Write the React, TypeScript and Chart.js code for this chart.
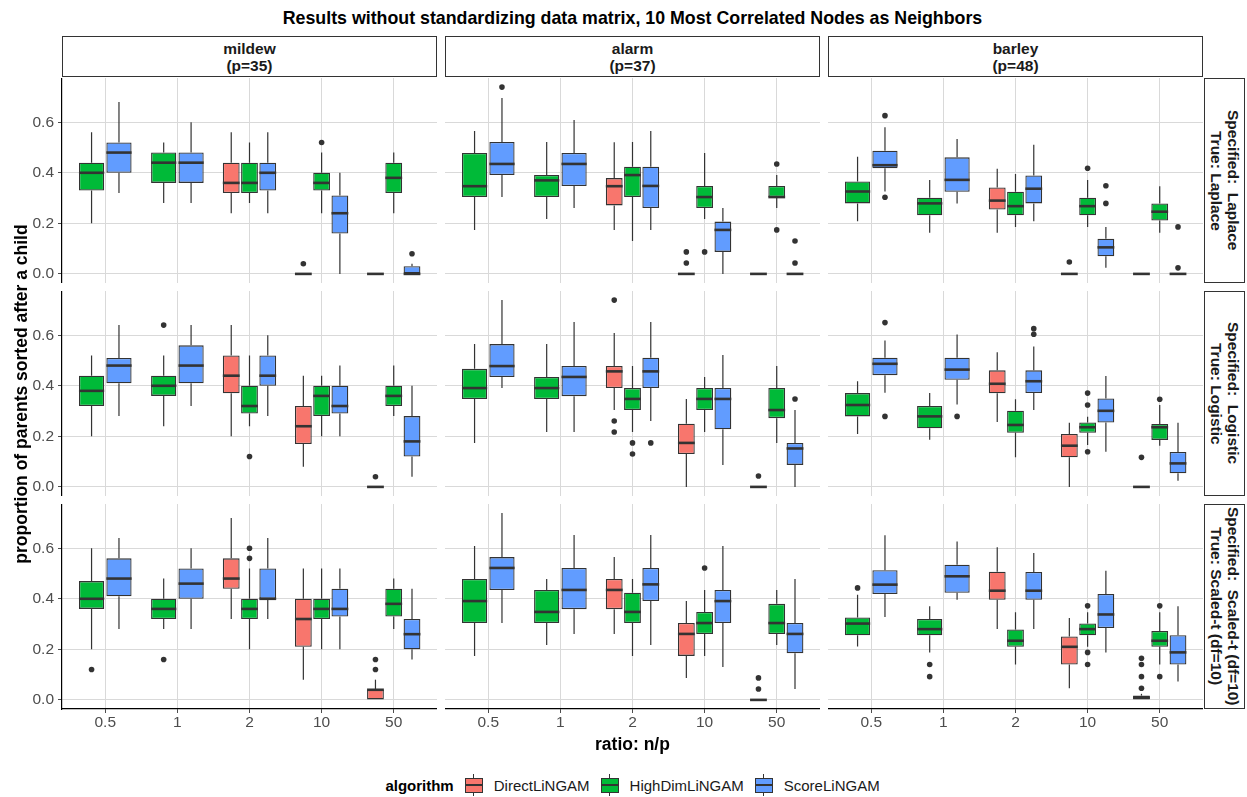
import React, { useEffect, useRef } from "react";
import { Chart, registerables } from "chart.js";

Chart.register(...registerables);

// ---------- data ----------
// box: [lower whisker, Q1, median, Q3, upper whisker, outliers]
type Box = [number, number, number, number, number, number[]] | null;

const ratioLabels = ["0.5", "1", "2", "10", "50"];
const algorithmNames = ["DirectLiNGAM", "HighDimLiNGAM", "ScoreLiNGAM"];
const networkLabels = ["mildew\n(p=35)", "alarm\n(p=37)", "barley\n(p=48)"];
const modelLabels = [
  "Specified:  Laplace\nTrue: Laplace",
  "Specified:  Logistic\nTrue: Logistic",
  "Specified:  Scaled-t (df=10)\nTrue: Scaled-t (df=10)",
];
const yTickValues = [0, 0.2, 0.4, 0.6];
const yRange = [-0.036, 0.775];

// mildew
const mildewLaplaceDirect: Box[] = [null, null, [0.24, 0.32, 0.36, 0.44, 0.56, []], [0, 0, 0, 0, 0, [0.04]], [0, 0, 0, 0, 0, []]];
const mildewLaplaceHighDim: Box[] = [[0.2, 0.33, 0.4, 0.44, 0.56, []], [0.28, 0.36, 0.44, 0.48, 0.52, []], [0.28, 0.32, 0.36, 0.44, 0.52, []], [0.24, 0.33, 0.36, 0.4, 0.48, [0.52]], [0.24, 0.32, 0.38, 0.44, 0.48, []]];
const mildewLaplaceScore: Box[] = [[0.32, 0.4, 0.48, 0.52, 0.68, []], [0.28, 0.36, 0.44, 0.48, 0.6, []], [0.24, 0.33, 0.4, 0.44, 0.56, []], [0, 0.16, 0.24, 0.31, 0.4, []], [0, 0, 0, 0.03, 0.04, [0.08]]];

const mildewLogisticDirect: Box[] = [null, null, [0.2, 0.37, 0.44, 0.52, 0.64, []], [0.08, 0.17, 0.24, 0.32, 0.44, []], [0, 0, 0, 0, 0, [0.04]]];
const mildewLogisticHighDim: Box[] = [[0.2, 0.32, 0.38, 0.44, 0.52, []], [0.24, 0.36, 0.4, 0.44, 0.52, [0.64]], [0.24, 0.29, 0.32, 0.4, 0.52, [0.12]], [0.2, 0.28, 0.36, 0.4, 0.44, []], [0.28, 0.32, 0.36, 0.4, 0.48, []]];
const mildewLogisticScore: Box[] = [[0.28, 0.41, 0.48, 0.51, 0.64, []], [0.32, 0.41, 0.48, 0.56, 0.64, []], [0.28, 0.4, 0.44, 0.52, 0.6, []], [0.2, 0.29, 0.32, 0.4, 0.48, []], [0.04, 0.12, 0.18, 0.28, 0.4, []]];

const mildewScaledTDirect: Box[] = [null, null, [0.32, 0.44, 0.48, 0.56, 0.72, []], [0.08, 0.21, 0.32, 0.4, 0.52, []], [0, 0, 0.04, 0.04, 0.08, [0.12, 0.16]]];
const mildewScaledTHighDim: Box[] = [[0.2, 0.36, 0.4, 0.47, 0.6, [0.12]], [0.28, 0.32, 0.36, 0.4, 0.48, [0.16]], [0.2, 0.32, 0.36, 0.4, 0.52, [0.56, 0.6]], [0.2, 0.32, 0.36, 0.4, 0.52, []], [0.28, 0.33, 0.38, 0.44, 0.48, []]];
const mildewScaledTScore: Box[] = [[0.28, 0.41, 0.48, 0.56, 0.64, []], [0.28, 0.4, 0.46, 0.52, 0.6, []], [0.32, 0.4, 0.4, 0.52, 0.64, []], [0.2, 0.33, 0.36, 0.44, 0.52, []], [0.16, 0.2, 0.26, 0.32, 0.44, []]];

// alarm
const alarmLaplaceDirect: Box[] = [null, null, [0.174, 0.271, 0.347, 0.379, 0.521, []], [0, 0, 0, 0, 0, [0.043, 0.087]], [0, 0, 0, 0, 0, []]];
const alarmLaplaceHighDim: Box[] = [[0.174, 0.304, 0.347, 0.478, 0.565, []], [0.217, 0.304, 0.37, 0.391, 0.522, []], [0.13, 0.304, 0.391, 0.424, 0.522, []], [0.217, 0.261, 0.304, 0.348, 0.478, [0.087]], [0.261, 0.304, 0.304, 0.348, 0.391, [0.174, 0.435]]];
const alarmLaplaceScore: Box[] = [[0.304, 0.391, 0.435, 0.522, 0.696, [0.739]], [0.261, 0.348, 0.435, 0.478, 0.609, []], [0.174, 0.261, 0.348, 0.424, 0.565, []], [0, 0.087, 0.174, 0.207, 0.261, []], [0, 0, 0, 0, 0, [0.043, 0.13]]];

const alarmLogisticDirect: Box[] = [null, null, [0.304, 0.391, 0.457, 0.478, 0.609, [0.217, 0.261, 0.739]], [0, 0.13, 0.174, 0.25, 0.348, []], [0, 0, 0, 0, 0, [0.043]]];
const alarmLogisticHighDim: Box[] = [[0.174, 0.348, 0.391, 0.467, 0.565, []], [0.217, 0.348, 0.391, 0.435, 0.565, []], [0.217, 0.304, 0.348, 0.391, 0.478, [0.13, 0.174]], [0.217, 0.304, 0.348, 0.391, 0.435, []], [0.174, 0.272, 0.304, 0.391, 0.478, []]];
const alarmLogisticScore: Box[] = [[0.391, 0.435, 0.478, 0.565, 0.739, []], [0.217, 0.359, 0.435, 0.478, 0.652, []], [0.261, 0.391, 0.457, 0.511, 0.652, [0.174]], [0.087, 0.228, 0.348, 0.391, 0.522, []], [0, 0.087, 0.152, 0.174, 0.304, [0.348]]];

const alarmScaledTDirect: Box[] = [null, null, [0.261, 0.359, 0.435, 0.478, 0.565, []], [0.087, 0.174, 0.261, 0.304, 0.391, []], [0, 0, 0, 0, 0, [0.043, 0.087]]];
const alarmScaledTHighDim: Box[] = [[0.174, 0.304, 0.391, 0.478, 0.609, []], [0.217, 0.304, 0.348, 0.435, 0.478, []], [0.174, 0.304, 0.348, 0.424, 0.478, []], [0.174, 0.261, 0.304, 0.348, 0.435, [0.522]], [0.217, 0.261, 0.304, 0.38, 0.435, []]];
const alarmScaledTScore: Box[] = [[0.304, 0.435, 0.522, 0.565, 0.739, []], [0.261, 0.359, 0.435, 0.522, 0.652, []], [0.217, 0.391, 0.457, 0.522, 0.652, []], [0.13, 0.304, 0.391, 0.435, 0.609, []], [0.043, 0.185, 0.261, 0.304, 0.478, []]];

// barley
const barleyLaplaceDirect: Box[] = [null, null, [0.163, 0.255, 0.29, 0.342, 0.416, []], [0, 0, 0, 0, 0, [0.047]], [0, 0, 0, 0, 0, []]];
const barleyLaplaceHighDim: Box[] = [[0.208, 0.279, 0.326, 0.366, 0.463, []], [0.163, 0.232, 0.279, 0.301, 0.371, []], [0.186, 0.232, 0.268, 0.325, 0.395, []], [0.186, 0.232, 0.268, 0.301, 0.371, [0.418]], [0.163, 0.211, 0.246, 0.279, 0.347, []]];
const barleyLaplaceScore: Box[] = [[0.326, 0.418, 0.43, 0.487, 0.58, [0.303, 0.626]], [0.279, 0.325, 0.372, 0.461, 0.534, []], [0.208, 0.279, 0.337, 0.389, 0.511, []], [0.024, 0.07, 0.105, 0.139, 0.186, [0.279, 0.349]], [0, 0, 0, 0, 0, [0.024, 0.186]]];

const barleyLogisticDirect: Box[] = [null, null, [0.257, 0.37, 0.408, 0.461, 0.533, []], [0, 0.117, 0.163, 0.209, 0.254, []], [0, 0, 0, 0, 0, [0.117]]];
const barleyLogisticHighDim: Box[] = [[0.209, 0.279, 0.324, 0.371, 0.418, []], [0.187, 0.232, 0.279, 0.32, 0.371, []], [0.117, 0.214, 0.245, 0.301, 0.347, []], [0.166, 0.214, 0.236, 0.255, 0.278, [0.139, 0.324, 0.371]], [0.163, 0.186, 0.236, 0.249, 0.324, [0.347]]];
const barleyLogisticScore: Box[] = [[0.372, 0.442, 0.487, 0.511, 0.579, [0.279, 0.65]], [0.326, 0.424, 0.464, 0.511, 0.603, [0.279]], [0.304, 0.371, 0.418, 0.461, 0.555, [0.604, 0.626]], [0.139, 0.255, 0.301, 0.35, 0.439, []], [0.024, 0.054, 0.093, 0.138, 0.254, []]];

const barleyScaledTDirect: Box[] = [null, null, [0.28, 0.396, 0.432, 0.507, 0.604, []], [0.046, 0.14, 0.21, 0.251, 0.324, []], [0, 0, 0.009, 0.017, 0.024, [0.046, 0.092, 0.14, 0.165]]];
const barleyScaledTHighDim: Box[] = [[0.211, 0.256, 0.302, 0.326, 0.416, [0.443]], [0.188, 0.256, 0.28, 0.32, 0.37, [0.092, 0.14]], [0.14, 0.21, 0.234, 0.279, 0.347, []], [0.21, 0.256, 0.28, 0.302, 0.347, [0.14, 0.188, 0.372]], [0.14, 0.21, 0.234, 0.273, 0.347, [0.092, 0.372]]];
const barleyScaledTScore: Box[] = [[0.328, 0.419, 0.456, 0.513, 0.651, []], [0.396, 0.424, 0.489, 0.535, 0.627, []], [0.28, 0.396, 0.432, 0.506, 0.581, []], [0.188, 0.284, 0.338, 0.419, 0.511, []], [0.073, 0.14, 0.188, 0.256, 0.37, []]];

// facet grid: rows = models, cols = networks, each cell = [Direct, HighDim, Score]
const facetBoxes: Box[][][][] = [
  [
    [mildewLaplaceDirect, mildewLaplaceHighDim, mildewLaplaceScore],
    [alarmLaplaceDirect, alarmLaplaceHighDim, alarmLaplaceScore],
    [barleyLaplaceDirect, barleyLaplaceHighDim, barleyLaplaceScore],
  ],
  [
    [mildewLogisticDirect, mildewLogisticHighDim, mildewLogisticScore],
    [alarmLogisticDirect, alarmLogisticHighDim, alarmLogisticScore],
    [barleyLogisticDirect, barleyLogisticHighDim, barleyLogisticScore],
  ],
  [
    [mildewScaledTDirect, mildewScaledTHighDim, mildewScaledTScore],
    [alarmScaledTDirect, alarmScaledTHighDim, alarmScaledTScore],
    [barleyScaledTDirect, barleyScaledTHighDim, barleyScaledTScore],
  ],
];

// ---------- style / layout ----------
const FONT = "'Liberation Sans', Arial, Helvetica, sans-serif";
const COLORS = ["#F8766D", "#00BA38", "#619CFF"];
const INK = "#333333";
const GRID = "#d9d9d9";
const TICK_TEXT = "#4d4d4d";
const PANEL_W = 375;
const PANEL_H = 205;
const COL_X = [62, 445, 828];
const ROW_Y = [78, 291, 504];
const Y_AXIS_W = 62;
const X_AXIS_H = 30;

const boxPlugin = {
  id: "boxDecor",
  beforeDatasetsDraw(chart: any) {
    const ctx = chart.ctx;
    const ys = chart.scales.y;
    ctx.save();
    ctx.strokeStyle = INK;
    ctx.lineWidth = 1.2;
    chart.data.datasets.forEach((ds: any, di: number) => {
      const meta = chart.getDatasetMeta(di);
      ds.boxes.forEach((b: Box, i: number) => {
        if (!b) return;
        const el = meta.data[i];
        const x = el.x;
        ctx.beginPath();
        ctx.moveTo(x, ys.getPixelForValue(b[3]));
        ctx.lineTo(x, ys.getPixelForValue(b[4]));
        ctx.moveTo(x, ys.getPixelForValue(b[1]));
        ctx.lineTo(x, ys.getPixelForValue(b[0]));
        ctx.stroke();
      });
    });
    ctx.restore();
  },
  afterDatasetsDraw(chart: any) {
    const ctx = chart.ctx;
    const ys = chart.scales.y;
    ctx.save();
    chart.data.datasets.forEach((ds: any, di: number) => {
      const meta = chart.getDatasetMeta(di);
      ds.boxes.forEach((b: Box, i: number) => {
        if (!b) return;
        const el = meta.data[i];
        const x = el.x;
        const w = el.width;
        ctx.strokeStyle = INK;
        ctx.lineWidth = 2.6;
        ctx.lineCap = "butt";
        const ym = ys.getPixelForValue(b[2]);
        ctx.beginPath();
        ctx.moveTo(x - w / 2, ym);
        ctx.lineTo(x + w / 2, ym);
        ctx.stroke();
        ctx.fillStyle = INK;
        b[5].forEach((o) => {
          ctx.beginPath();
          ctx.arc(x, ys.getPixelForValue(o), 2.8, 0, Math.PI * 2);
          ctx.fill();
        });
      });
    });
    ctx.restore();
  },
};

function FacetChart({ row, col }: { row: number; col: number }) {
  const ref = useRef<HTMLCanvasElement | null>(null);
  const isLeft = col === 0;
  const isBottom = row === 2;
  const left = isLeft ? COL_X[col] - Y_AXIS_W : COL_X[col];
  const width = PANEL_W + (isLeft ? Y_AXIS_W : 0);
  const top = ROW_Y[row];
  const height = PANEL_H + (isBottom ? X_AXIS_H : 0);

  useEffect(() => {
    if (!ref.current) return;
    const boxes = facetBoxes[row][col];
    const chart = new Chart(ref.current, {
      type: "bar",
      data: {
        labels: ratioLabels,
        datasets: algorithmNames.map((name, k) => ({
          label: name,
          data: boxes[k].map((b) => (b ? [b[1], b[3]] : null)),
          boxes: boxes[k],
          backgroundColor: COLORS[k],
          borderColor: INK,
          borderWidth: 1.3,
          borderSkipped: false,
          skipNull: true,
          categoryPercentage: 0.76,
          barPercentage: 0.92,
        })) as any,
      },
      options: {
        animation: false,
        responsive: false,
        maintainAspectRatio: false,
        events: [],
        layout: { padding: 0 },
        plugins: { legend: { display: false }, tooltip: { enabled: false }, title: { display: false } },
        scales: {
          x: {
            type: "category",
            offset: true,
            grid: { offset: false, color: GRID, lineWidth: 1, drawTicks: isBottom, tickLength: 4, tickColor: TICK_TEXT },
            border: { display: isBottom, color: "#000000", width: 1.2 },
            ticks: { display: isBottom, color: TICK_TEXT, font: { family: FONT, size: 15.5 }, padding: 0, maxRotation: 0, autoSkip: false },
            afterFit: (s: any) => {
              s.height = isBottom ? X_AXIS_H : 0;
              s.paddingLeft = 0;
              s.paddingRight = 0;
              s.paddingTop = 0;
              s.paddingBottom = 0;
            },
            afterUpdate: (s: any) => {
              // ggplot discrete expansion of 0.6 on each side
              s._startValue = -0.6;
              s._valueRange = ratioLabels.length + 0.2;
            },
          } as any,
          y: {
            type: "linear",
            min: yRange[0],
            max: yRange[1],
            afterBuildTicks: (s: any) => {
              s.ticks = yTickValues.map((v) => ({ value: v }));
            },
            ticks: {
              display: isLeft,
              color: TICK_TEXT,
              font: { family: FONT, size: 15.5 },
              padding: 4,
              callback: (v: any) => Number(v).toFixed(1),
            },
            grid: { color: GRID, lineWidth: 1, drawTicks: isLeft, tickLength: 4, tickColor: TICK_TEXT },
            border: { display: isLeft, color: "#000000", width: 1.2 },
            afterFit: (s: any) => {
              s.width = isLeft ? Y_AXIS_W : 0;
              s.paddingTop = 0;
              s.paddingBottom = 0;
              s.paddingLeft = 0;
              s.paddingRight = 0;
            },
          } as any,
        },
      } as any,
      plugins: [boxPlugin],
    });
    return () => chart.destroy();
  }, [row, col]);

  return (
    <canvas
      ref={ref}
      width={width}
      height={height}
      style={{ position: "absolute", left, top, width, height }}
    />
  );
}

function LegendKey({ color }: { color: string }) {
  return (
    <div style={{ position: "relative", width: 18, height: 22 }}>
      <div style={{ position: "absolute", left: 8.5, top: 0, width: 1, height: 22, background: INK }} />
      <div
        style={{
          position: "absolute",
          left: 0,
          top: 3.5,
          width: 18,
          height: 15,
          boxSizing: "border-box",
          border: `1px solid ${INK}`,
          background: color,
        }}
      />
      <div style={{ position: "absolute", left: 0, top: 10, width: 18, height: 2, background: INK }} />
    </div>
  );
}

export default function App() {
  const stripBorder = "1.6px solid #333333";
  return (
    <div
      style={{
        position: "absolute",
        left: 0,
        top: 0,
        width: 1247,
        height: 797,
        background: "#ffffff",
        fontFamily: FONT,
        overflow: "hidden",
      }}
    >
      {/* title */}
      <div
        style={{
          position: "absolute",
          left: 0,
          width: 1265,
          top: 7,
          height: 22,
          lineHeight: "22px",
          textAlign: "center",
          fontWeight: "bold",
          fontSize: 17.8,
          color: "#000",
        }}
      >
        Results without standardizing data matrix, 10 Most Correlated Nodes as Neighbors
      </div>

      {/* top strips */}
      {networkLabels.map((lab, c) => (
        <div
          key={"ts" + c}
          style={{
            position: "absolute",
            left: COL_X[c],
            top: 36,
            width: PANEL_W,
            height: 41,
            boxSizing: "border-box",
            border: stripBorder,
            display: "flex",
            alignItems: "center",
            justifyContent: "center",
            textAlign: "center",
            whiteSpace: "pre",
            fontWeight: "bold",
            fontSize: 15.5,
            lineHeight: "17px",
            color: "#1a1a1a",
            background: "#fff",
          }}
        >
          {lab}
        </div>
      ))}

      {/* right strips */}
      {modelLabels.map((lab, r) => (
        <div
          key={"rs" + r}
          style={{
            position: "absolute",
            left: 1204,
            top: ROW_Y[r],
            width: 41,
            height: PANEL_H,
            boxSizing: "border-box",
            border: stripBorder,
            display: "flex",
            alignItems: "center",
            justifyContent: "center",
            background: "#fff",
          }}
        >
          <div
            style={{
              writingMode: "vertical-rl",
              whiteSpace: "pre",
              textAlign: "center",
              fontWeight: "bold",
              fontSize: 15.5,
              lineHeight: "17px",
              color: "#1a1a1a",
            }}
          >
            {lab}
          </div>
        </div>
      ))}

      {/* facets */}
      {[0, 1, 2].map((r) =>
        [0, 1, 2].map((c) => <FacetChart key={`f${r}${c}`} row={r} col={c} />)
      )}

      {/* y axis title */}
      <div
        style={{
          position: "absolute",
          left: 21 - 250,
          top: 393.5 - 11,
          width: 500,
          height: 22,
          lineHeight: "22px",
          textAlign: "center",
          transform: "rotate(-90deg)",
          fontWeight: "bold",
          fontSize: 17.5,
          color: "#000",
        }}
      >
        proportion of parents sorted after a child
      </div>

      {/* x axis title */}
      <div
        style={{
          position: "absolute",
          left: 0,
          width: 1265,
          top: 744 - 11,
          height: 22,
          lineHeight: "22px",
          textAlign: "center",
          fontWeight: "bold",
          fontSize: 17.5,
          color: "#000",
        }}
      >
        ratio: n/p
      </div>

      {/* legend */}
      <div
        style={{
          position: "absolute",
          left: 0,
          width: 1265,
          top: 774,
          height: 22,
          display: "flex",
          alignItems: "center",
          justifyContent: "center",
          fontSize: 15,
          color: "#000",
        }}
      >
        <span style={{ fontWeight: "bold", marginRight: 11 }}>algorithm</span>
        {algorithmNames.map((n, k) => (
          <div key={n} style={{ display: "flex", alignItems: "center", marginRight: k < 2 ? 11 : 0 }}>
            <LegendKey color={COLORS[k]} />
            <span style={{ marginLeft: 11, color: "#1a1a1a" }}>{n}</span>
          </div>
        ))}
      </div>
    </div>
  );
}
